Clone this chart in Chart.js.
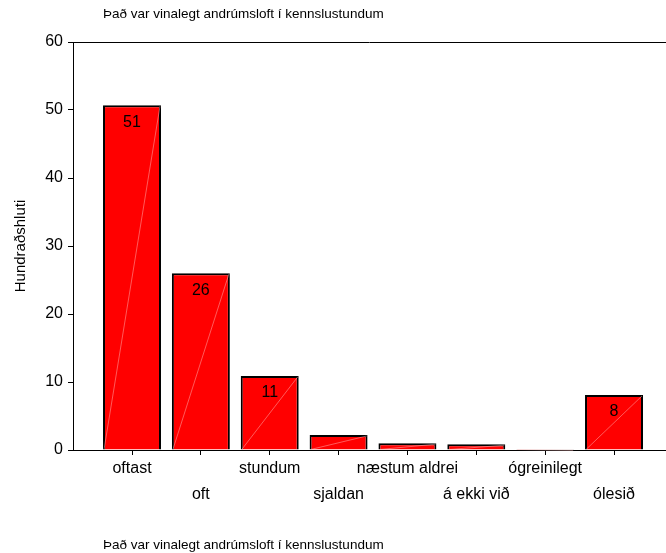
<!DOCTYPE html>
<html lang="is">
<head>
  <meta charset="UTF-8" />
  <title>Það var vinalegt andrúmsloft í kennslustundum</title>
  <script src="https://cdn.jsdelivr.net/npm/chart.js"></script>
  <style>
    html, body { margin: 0; padding: 0; background: #fff; }
    #wrap { width: 666px; height: 553px; position: relative; }
  </style>
</head>
<body>
  <div id="wrap"><canvas id="chart"></canvas></div>

  <script>
    const title = "Það var vinalegt andrúmsloft í kennslustundum";
    const categories = ["oftast", "oft", "stundum", "sjaldan", "næstum aldrei", "á ekki við", "ógreinilegt", "ólesið"];
    const percents = [50.7, 26.0, 10.9, 2.2, 1.0, 0.85, 0.1, 8.1];
    const valueLabels = ["51", "26", "11", "", "", "", "", "8"];
    const yTicks = [0, 10, 20, 30, 40, 50, 60];

    const font = "Arial, 'Liberation Sans', sans-serif";

    // SPSS style extras: frame top line, faint diagonal in each bar, values, captions
    const extras = {
      id: "extras",
      afterDatasetsDraw(chart) {
        const ctx = chart.ctx;
        const area = chart.chartArea;
        const bars = chart.getDatasetMeta(0).data;
        ctx.save();
        bars.forEach((bar, i) => {
          const half = bar.width / 2;
          ctx.strokeStyle = "rgba(255,190,190,0.8)";
          ctx.lineWidth = 0.6;
          ctx.beginPath();
          ctx.moveTo(bar.x - half + 1, bar.base);
          ctx.lineTo(bar.x + half - 1, bar.y + 1);
          ctx.stroke();
          if (valueLabels[i]) {
            ctx.fillStyle = "#000";
            ctx.font = "16px " + font;
            ctx.textAlign = "center";
            ctx.textBaseline = "middle";
            ctx.fillText(valueLabels[i], bar.x, bar.y + 17);
          }
        });
        ctx.strokeStyle = "#000";
        ctx.lineWidth = 1;
        ctx.beginPath();
        ctx.moveTo(area.left, area.top + 0.5);
        ctx.lineTo(area.right, area.top + 0.5);
        ctx.stroke();

        ctx.fillStyle = "#000";
        ctx.font = "13.5px " + font;
        ctx.textAlign = "left";
        ctx.textBaseline = "middle";
        ctx.fillText(title, 103, 14);
        ctx.fillText(title, 103, 545);
        ctx.restore();
      }
    };

    new Chart(document.getElementById("chart"), {
      type: "bar",
      data: {
        datasets: [{
          data: percents.map((v, i) => ({ x: i, y: v })),
          backgroundColor: "#ff0000",
          borderColor: "#000",
          borderWidth: 2,
          barPercentage: 0.842,
          categoryPercentage: 1
        }]
      },
      options: {
        responsive: true,
        maintainAspectRatio: false,
        animation: false,
        layout: { padding: { top: 42, left: 0, right: 0, bottom: 0 } },
        plugins: { legend: { display: false }, tooltip: { enabled: false } },
        scales: {
          x: {
            type: "linear",
            offset: false,
            min: -0.857,
            max: 7.755,
            afterFit: s => { s.height = 103; },
            afterBuildTicks: s => { s.ticks = categories.map((c, i) => ({ value: i })); },
            grid: { drawOnChartArea: false, offset: false, tickLength: 5, color: "#000" },
            border: { color: "#000", width: 1 },
            ticks: {
              autoSkip: false,
              maxRotation: 0,
              padding: 1,
              color: "#000",
              font: { family: font, size: 16, lineHeight: 1.6 },
              callback: v => (v % 2 === 0 ? categories[v] : ["", categories[v]])
            }
          },
          y: {
            min: 0,
            max: 60,
            afterFit: s => { s.width = 73; },
            afterBuildTicks: s => { s.ticks = yTicks.map(v => ({ value: v })); },
            grid: { drawOnChartArea: false, tickLength: 5, color: "#000" },
            border: { color: "#000", width: 1 },
            ticks: {
              padding: 5,
              color: "#000",
              font: { family: font, size: 16 }
            },
            title: {
              display: true,
              text: "Hundraðshluti",
              color: "#000",
              font: { family: font, size: 15 },
              padding: { top: 12, bottom: 0 }
            }
          }
        }
      },
      plugins: [extras]
    });
  </script>
</body>
</html>
